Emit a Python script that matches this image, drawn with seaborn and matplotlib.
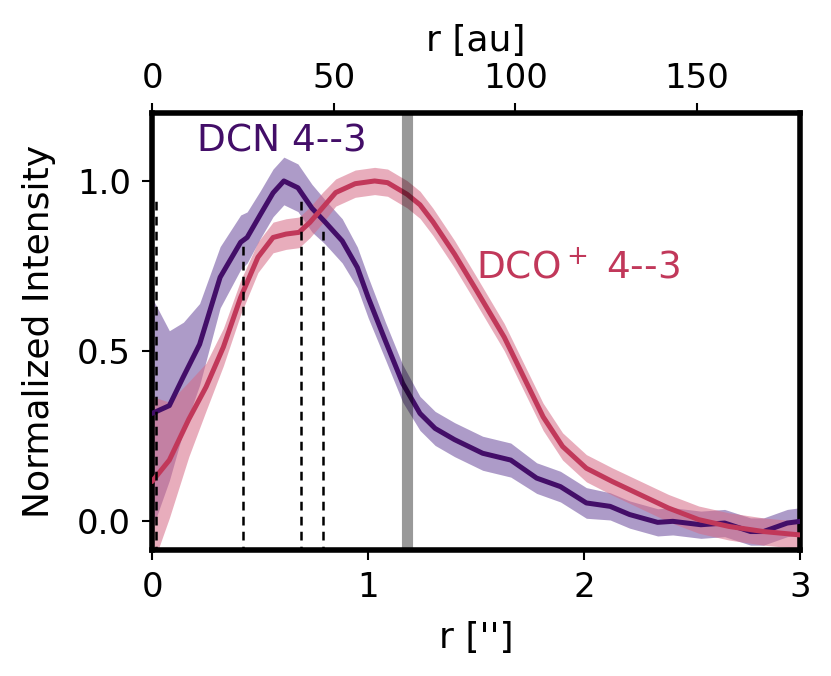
import numpy as np
import pandas as pd
import matplotlib
matplotlib.use("Agg")
import matplotlib.pyplot as plt
import seaborn as sns

# ---- data ----
dcn_r = [0.0, 0.08, 0.145, 0.22, 0.315, 0.41, 0.44, 0.50, 0.56, 0.61, 0.675, 0.74,
         0.80, 0.88, 0.95, 1.0, 1.08, 1.16, 1.24, 1.31, 1.40, 1.53, 1.66, 1.78, 1.89,
         2.01, 2.12, 2.21, 2.34, 2.41, 2.54, 2.65, 2.77, 2.83, 2.94, 3.0]
dcn_I = [0.317, 0.34, 0.425, 0.52, 0.717, 0.82, 0.834, 0.90, 0.965, 1.0, 0.98, 0.92,
         0.88, 0.824, 0.746, 0.658, 0.53, 0.405, 0.317, 0.273, 0.24, 0.20, 0.18, 0.127,
         0.102, 0.054, 0.044, 0.02, -0.003, 0.0, -0.01, -0.005, -0.03, -0.03, -0.005, 0.0]
dcn_err = [0.34, 0.22, 0.16, 0.12, 0.09, 0.08, 0.075, 0.07, 0.07, 0.07, 0.07, 0.07,
           0.065, 0.065, 0.06, 0.06, 0.055, 0.055, 0.05, 0.05, 0.05, 0.05, 0.05, 0.045,
           0.045, 0.045, 0.04, 0.04, 0.04, 0.04, 0.04, 0.04, 0.04, 0.04, 0.04, 0.04]

dco_r = [0.0, 0.08, 0.17, 0.25, 0.33, 0.41, 0.49, 0.56, 0.62, 0.68, 0.73, 0.79, 0.85,
         0.94, 1.03, 1.09, 1.18, 1.24, 1.30, 1.40, 1.50, 1.63, 1.72, 1.81, 1.90, 2.01,
         2.13, 2.26, 2.39, 2.53, 2.67, 2.83, 3.0]
dco_I = [0.117, 0.18, 0.30, 0.395, 0.512, 0.658, 0.776, 0.834, 0.844, 0.849, 0.878,
         0.922, 0.966, 0.992, 1.0, 0.995, 0.961, 0.93, 0.88, 0.785, 0.68, 0.541, 0.424,
         0.307, 0.22, 0.156, 0.117, 0.078, 0.039, 0.005, -0.015, -0.03, -0.04]
dco_err = [0.25, 0.17, 0.11, 0.07, 0.055, 0.05, 0.045, 0.045, 0.045, 0.045, 0.045,
           0.045, 0.04, 0.04, 0.04, 0.04, 0.04, 0.04, 0.04, 0.04, 0.04, 0.04, 0.04,
           0.04, 0.04, 0.04, 0.04, 0.04, 0.04, 0.04, 0.04, 0.04, 0.04]

gap_r = [0.02, 0.42, 0.69, 0.79]
gap_top = [0.95, 0.82, 0.95, 0.87]
band_r = 1.18
dist_au_per_arcsec = 59.5

labels = ["DCN 4--3", r"DCO$^+$ 4--3"]
c_dcn = "#430e68"
c_dco = "#c1385a"

sns.set_style("ticks")
plt.rcParams["font.family"] = ["DejaVu Sans"]
for k in ["text.color", "axes.labelcolor", "xtick.color", "ytick.color", "axes.edgecolor"]:
    plt.rcParams[k] = "black"

fig = plt.figure(figsize=(8.31, 6.76), dpi=100)
ax = fig.add_axes([0.183, 0.186, 0.780, 0.647])

df_dcn = pd.DataFrame({"r": dcn_r, "I": dcn_I})
df_dco = pd.DataFrame({"r": dco_r, "I": dco_I})

ax.fill_between(dcn_r, np.array(dcn_I) - np.array(dcn_err), np.array(dcn_I) + np.array(dcn_err),
                color="#6a4a9c", alpha=0.55, lw=0, zorder=1)
ax.fill_between(dco_r, np.array(dco_I) - np.array(dco_err), np.array(dco_I) + np.array(dco_err),
                color="#d66a86", alpha=0.55, lw=0, zorder=1)
sns.lineplot(data=df_dcn, x="r", y="I", ax=ax, color=c_dcn, lw=3.6, zorder=3)
sns.lineplot(data=df_dco, x="r", y="I", ax=ax, color=c_dco, lw=3.6, zorder=3)

for xr, yt in zip(gap_r, gap_top):
    ax.plot([xr, xr], [-0.1, yt], ls=(0, (3.5, 2.5)), color="k", lw=1.8, zorder=4)

ax.axvline(band_r, color="k", alpha=0.4, lw=8, zorder=5)

ax.text(0.21, 1.117, labels[0], color=c_dcn, fontsize=27, va="center", ha="left")
ax.text(1.50, 0.742, labels[1], color=c_dco, fontsize=27, va="center", ha="left")

ax.set_xlim(0, 3)
ax.set_ylim(-0.085, 1.2)
ax.set_xticks([0, 1, 2, 3])
ax.set_yticks([0.0, 0.5, 1.0])
ax.set_yticklabels(["0.0", "0.5", "1.0"])
ax.set_xlabel("r ['']", fontsize=26, labelpad=12)
ax.set_ylabel("Normalized Intensity", fontsize=26, labelpad=15)
ax.tick_params(labelsize=24.5, length=7, width=1.5, direction="out", pad=8)
for s in ax.spines.values():
    s.set_linewidth(4)

sec = ax.secondary_xaxis("top", functions=(lambda x: x * dist_au_per_arcsec,
                                           lambda a: a / dist_au_per_arcsec))
sec.set_xticks([0, 50, 100, 150])
sec.set_xlabel("r [au]", fontsize=26, labelpad=8)
sec.tick_params(labelsize=24.5, length=7, width=1.5, direction="out", pad=6)

fig.savefig("out.png", dpi=100)
